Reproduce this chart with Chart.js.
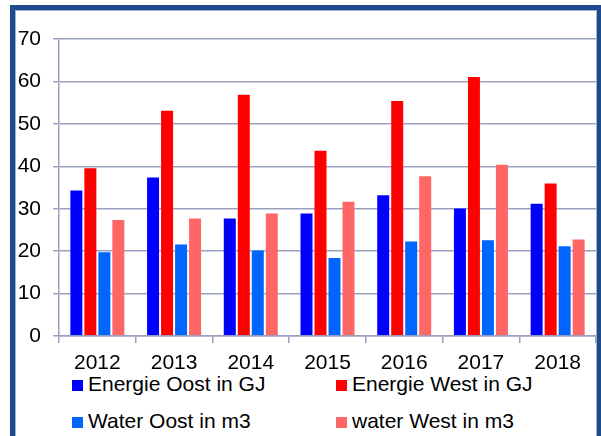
<!DOCTYPE html>
<html>
<head>
<meta charset="utf-8">
<script src="https://cdn.jsdelivr.net/npm/chart.js@4/dist/chart.umd.min.js"></script>
<style>
  html, body { margin: 0; padding: 0; background: #fff; }
  #wrap { position: relative; width: 601px; height: 436px; overflow: hidden; font-family: "Liberation Sans", Arial, sans-serif; }
  #frame { position: absolute; left: 10px; top: 5px; width: 582px; height: 480px;
           border-style: solid; border-color: #1F4A8E; border-width: 5px 4px 0 5px;
           box-shadow: inset 1px 1px 0 #9FB0D2, inset -1px 0 0 #9FB0D2; background: #fff; }
  #chart_cv { position: absolute; left: 0; top: 0; }
  .lg { position: absolute; font-size: 21px; line-height: 24px; color: #000; white-space: nowrap; }
  .lg span { display: inline-block; width: 11px; height: 11px; margin-right: 5px; vertical-align: 0px; }
</style>
</head>
<body>
<div id="wrap">
  <div id="frame"></div>
  <canvas id="chart_cv" width="601" height="372"></canvas>
  <div id="legend"></div>
</div>
<script>
// データ --- (*1)
const labels = ['2012', '2013', '2014', '2015', '2016', '2017', '2018'];
const energieOost = [34.5, 37.6, 27.9, 29.1, 33.4, 30.3, 31.4];
const energieWest = [39.8, 53.3, 57.1, 43.9, 55.6, 61.3, 36.2];
const waterOost   = [20.0, 21.8, 20.4, 18.6, 22.5, 22.8, 21.4];
const waterWest   = [27.6, 27.9, 29.1, 31.9, 37.9, 40.6, 23.0];
const yTicks = [0, 10, 20, 30, 40, 50, 60, 70];

const seriesNames  = ['Energie Oost in GJ', 'Energie West in GJ', 'Water Oost in m3', 'water West in m3'];
const seriesColors = ['#0000FF', '#FF0000', '#0066FF', '#FF6666'];
const seriesValues = [energieOost, energieWest, waterOost, waterWest];

const gridColor = '#9AA1C0';

const data = {
  labels: labels,
  datasets: seriesNames.map((name, i) => ({
    label: name,
    data: seriesValues[i],
    backgroundColor: seriesColors[i],
    borderColor: 'rgba(255,255,255,0.18)', // 棒のふち（少し明るく）
    borderWidth: 1,
    categoryPercentage: 0.73,
    barPercentage: 1.0
  }))
};

// グラフを描画 --- (*2)
const ctx = document.getElementById('chart_cv');
const chart_cv = new Chart(ctx, {
  type: 'bar',
  data: data,
  options: {
    responsive: false,
    animation: false,
    layout: { padding: { left: 0, right: 5, top: 39, bottom: 0 } },
    plugins: {
      legend: { display: false },
      tooltip: { enabled: false }
    },
    scales: {
      x: {
        grid: { display: true, offset: true, drawOnChartArea: false, drawTicks: true, tickLength: 7, color: gridColor, lineWidth: 1.5 },
        border: { display: true, color: gridColor, width: 1.5 },
        ticks: { color: '#000', font: { family: 'Liberation Sans', size: 21 }, padding: 8, maxRotation: 0 },
        afterFit: (scale) => { scale.height = 36; }
      },
      y: {
        min: 0,
        max: 70,
        afterBuildTicks: (scale) => { scale.ticks = yTicks.map(v => ({ value: v })); },
        grid: { color: gridColor, lineWidth: 1.5, tickLength: 6 },
        border: { display: true, color: gridColor, width: 1.5 },
        ticks: { color: '#000', font: { family: 'Liberation Sans', size: 21 }, padding: 12 },
        afterFit: (scale) => { scale.width = 59; }
      }
    }
  }
});

// 凡例（2列×2行）--- (*3)
const legendPos = [[72, 372], [336, 372], [72, 409], [336, 409]];
const legendBox = document.getElementById('legend');
chart_cv.data.datasets.forEach((ds, i) => {
  const item = document.createElement('div');
  item.className = 'lg';
  item.style.left = legendPos[i][0] + 'px';
  item.style.top = legendPos[i][1] + 'px';
  item.innerHTML = '<span style="background:' + ds.backgroundColor + '"></span>' + ds.label;
  legendBox.appendChild(item);
});
</script>
</body>
</html>
